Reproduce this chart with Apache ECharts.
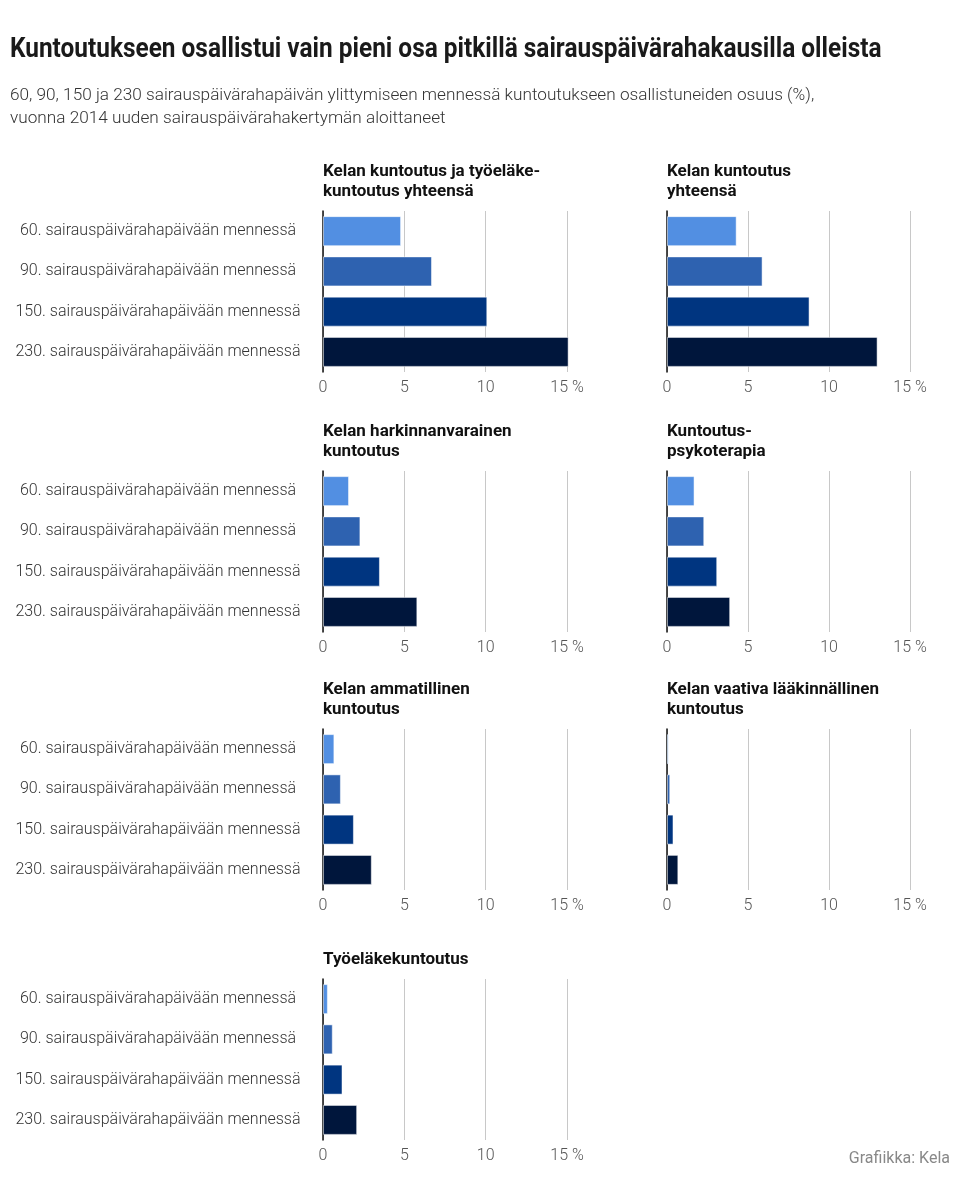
<!DOCTYPE html>
<html>
<head>
<meta charset="utf-8">
<script src="https://cdn.jsdelivr.net/npm/echarts@6/dist/echarts.min.js"></script>
<style>
html,body{margin:0;padding:0;background:#fff;}
#chart{width:960px;height:1195px;}
</style>
</head>
<body>
<div id="chart"></div>
<script>
// ---- data ----
const categories = [
  '60. sairauspäivärahapäivään mennessä',
  '90. sairauspäivärahapäivään mennessä',
  '150. sairauspäivärahapäivään mennessä',
  '230. sairauspäivärahapäivään mennessä'
];
const panelTitles = [
  'Kelan kuntoutus ja työeläke-\nkuntoutus yhteensä',
  'Kelan kuntoutus\nyhteensä',
  'Kelan harkinnanvarainen\nkuntoutus',
  'Kuntoutus-\npsykoterapia',
  'Kelan ammatillinen\nkuntoutus',
  'Kelan vaativa lääkinnällinen\nkuntoutus',
  'Työeläkekuntoutus'
];
const kelaJaTyoelakeYhteensa = [4.8, 6.7, 10.1, 15.1];
const kelaYhteensa = [4.3, 5.9, 8.8, 13.0];
const harkinnanvarainen = [1.6, 2.3, 3.5, 5.8];
const psykoterapia = [1.7, 2.3, 3.1, 3.9];
const ammatillinen = [0.7, 1.1, 1.9, 3.0];
const vaativaLaakinnallinen = [0.1, 0.2, 0.4, 0.7];
const tyoelakekuntoutus = [0.3, 0.6, 1.2, 2.1];
const xTickValues = [0, 5, 10, 15];
const lastTickLabel = '15 %';

const mainTitle = 'Kuntoutukseen osallistui vain pieni osa pitkillä sairauspäivärahakausilla olleista';
const subTitle = '60, 90, 150 ja 230 sairauspäivärahapäivän ylittymiseen mennessä kuntoutukseen osallistuneiden osuus (%),\nvuonna 2014 uuden sairauspäivärahakertymän aloittaneet';
const sourceText = 'Grafiikka: Kela';

const panelValues = [kelaJaTyoelakeYhteensa, kelaYhteensa, harkinnanvarainen, psykoterapia, ammatillinen, vaativaLaakinnallinen, tyoelakekuntoutus];
const barColors = ['#528fe2', '#2e62b0', '#003580', '#00163c'];

// ---- layout ----
const colLeft = [323, 667];
const colWidth = [244, 243];
const rowTop = [211, 471, 729, 979];
const plotHeight = 161;
const FONT = 'Roboto, "Noto Sans", sans-serif';

const grids = [], xAxes = [], yAxes = [], series = [], titles = [];

titles.push({
  text: subTitle,
  left: 5, top: 79,
  textStyle: {fontFamily: FONT, fontSize: 17.2, fontWeight: 300, color: '#333', lineHeight: 23}
});
titles.push({
  text: sourceText,
  right: 5, top: 1146,
  textStyle: {fontFamily: FONT, fontSize: 16, fontWeight: 'normal', color: '#888'}
});

panelValues.forEach((vals, i) => {
  const col = i % 2;
  const row = Math.floor(i / 2);
  const left = colLeft[col];
  const top = rowTop[row];
  const nLines = panelTitles[i].split('\n').length;
  titles.push({
    text: panelTitles[i],
    left: left - 5,
    top: top - 14 - nLines * 20,
    textStyle: {fontFamily: FONT, fontSize: 17, fontWeight: 'bold', color: '#111', lineHeight: 20}
  });
  grids.push({left: left, top: top, width: colWidth[col], height: plotHeight, containLabel: false});
  xAxes.push({
    type: 'value', gridIndex: i, min: xTickValues[0], max: xTickValues[xTickValues.length - 1],
    interval: xTickValues[1] - xTickValues[0],
    axisLine: {show: false}, axisTick: {show: false},
    splitLine: {show: true, lineStyle: {color: '#c8c8c8', width: 1}},
    axisLabel: {
      color: '#555', fontSize: 16, fontFamily: FONT, fontWeight: 300, margin: 8,
      formatter: v => (v === xTickValues[xTickValues.length - 1] ? lastTickLabel : String(v))
    }
  });
  yAxes.push({
    type: 'category', gridIndex: i, data: categories, inverse: true,
    axisLine: {show: true, lineStyle: {color: '#111', width: 1.5}},
    axisTick: {show: false},
    axisLabel: {
      show: col === 0, color: '#333', fontSize: 16, fontFamily: FONT, fontWeight: 300,
      align: 'center', margin: 165
    }
  });
  series.push({
    type: 'bar', xAxisIndex: i, yAxisIndex: i, barWidth: 30, clip: false,
    data: vals.map((v, k) => ({value: v, itemStyle: {color: barColors[k], borderColor: 'rgba(255,255,255,0.5)', borderWidth: 1}})),
    silent: true, animation: false
  });
});

const chart = echarts.init(document.getElementById('chart'), null, {renderer: 'canvas'});
chart.setOption({
  backgroundColor: '#fff',
  animation: false,
  title: titles,
  graphic: [{
    type: 'text', x: 10, y: 37, scaleX: 0.904, silent: true,
    style: {text: mainTitle, x: 0, y: 0, font: 'bold 27px Roboto, sans-serif', fill: '#1a1a1a', textVerticalAlign: 'top'}
  }],
  grid: grids,
  xAxis: xAxes,
  yAxis: yAxes,
  series: series
});
</script>
</body>
</html>
